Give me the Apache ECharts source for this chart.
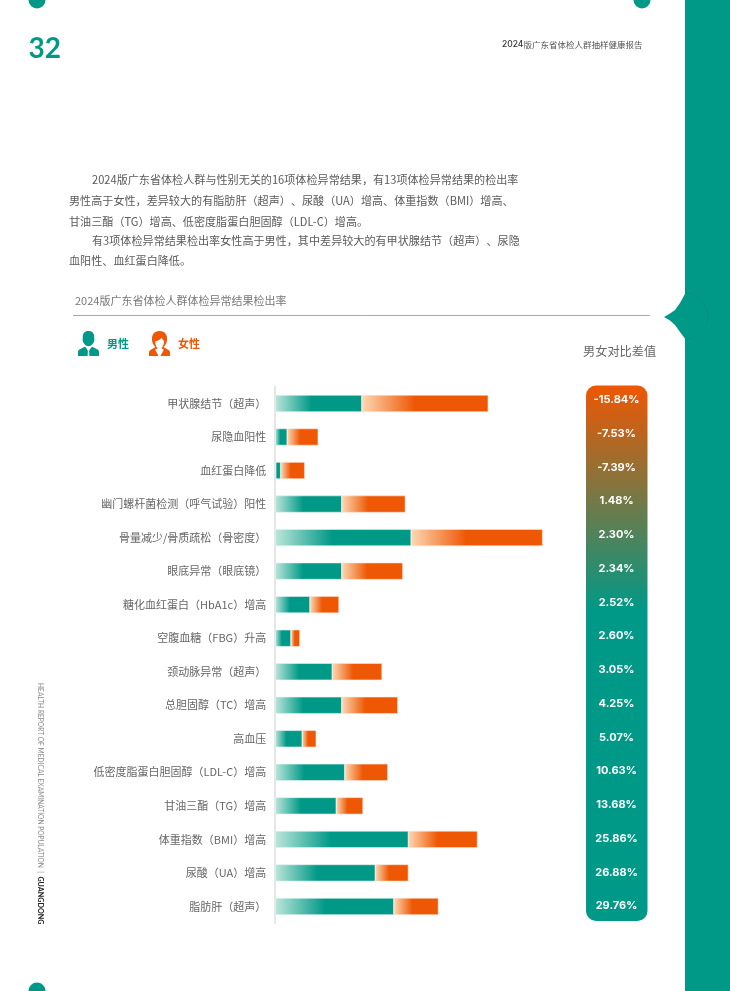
<!DOCTYPE html>
<html>
<head>
<meta charset="utf-8">
<style>
html,body{margin:0;padding:0;background:#fff;}
#chartmain{width:730px;height:991px;}
</style>
<script src="https://cdn.jsdelivr.net/npm/echarts@6/dist/echarts.min.js"></script>
</head>
<body>
<div id="chartmain"></div>
<script>
var categories=['甲状腺结节（超声）','尿隐血阳性','血红蛋白降低','幽门螺杆菌检测（呼气试验）阳性','骨量减少/骨质疏松（骨密度）','眼底异常（眼底镜）','糖化血红蛋白（HbA1c）增高','空腹血糖（FBG）升高','颈动脉异常（超声）','总胆固醇（TC）增高','高血压','低密度脂蛋白胆固醇（LDL-C）增高','甘油三酯（TG）增高','体重指数（BMI）增高','尿酸（UA）增高','脂肪肝（超声）'];
var maleValues=[34.6,4.8,2.2,26.6,54.3,26.6,13.9,6.3,22.8,26.6,10.8,27.8,24.4,53.2,40.0,47.4];
var femaleValues=[50.5,12.4,9.6,25.4,52.5,24.4,11.6,3.6,19.9,22.4,5.6,17.2,10.7,27.6,13.2,17.8];
var diffLabels=['-15.84%','-7.53%','-7.39%','1.48%','2.30%','2.34%','2.52%','2.60%','3.05%','4.25%','5.07%','10.63%','13.68%','25.86%','26.88%','29.76%'];
var paragraphLines=[
	'2024版广东省体检人群与性别无关的16项体检异常结果，有13项体检异常结果的检出率',
	'男性高于女性，差异较大的有脂肪肝（超声）、尿酸（UA）增高、体重指数（BMI）增高、',
	'甘油三酯（TG）增高、低密度脂蛋白胆固醇（LDL-C）增高。',
	'有3项体检异常结果检出率女性高于男性，其中差异较大的有甲状腺结节（超声）、尿隐',
	'血阳性、血红蛋白降低。'
];

var TEAL='#009987',ORANGE='#ee5703';
var CJK='"Noto Sans CJK SC","Noto Sans",sans-serif';
var maleIcon='path://M10.5 0C6.5 0 4.6 2.6 4.8 6.5L4.6 9C5 12 7.5 15.2 10.5 15.2C13.5 15.2 16 12 16.4 9L16.2 6.5C16.4 2.6 14.5 0 10.5 0ZM6.8 15.8L1 18.8C0.3 19.3 0 20 0 21V25H9.6L9.9 20L9 18ZM14.2 15.8L20 18.8C20.7 19.3 21 20 21 21V25H11.4L11.1 20L12 18Z';
var femaleIcon='path://M10.5 0C5 0 2.5 4 3 9C3.3 12 4.5 14.5 6.5 16L1.5 19C0.5 19.6 0 20.5 0 21.5V25H9.5L6.2 18.8L8.5 17.2C7 15.5 6 13 6.5 10C9 10 11.5 8.5 12.5 6.5C13.5 8.5 14.5 9.5 15 10C15.2 13 14 15.5 12.5 17.2L14.8 18.8L11.5 25H21V21.5C21 20.5 20.5 19.6 19.5 19L14.5 16C16.5 14.5 17.7 12 18 9C18.5 4 16 0 10.5 0Z';

function barGradient(light,solid) {
	return new echarts.graphic.LinearGradient(0,0,1,0,[
		{offset:0,color:light},
		{offset:0.42,color:solid},
		{offset:1,color:solid}
	]);
}

// split at ）、 so the browser keeps both punctuation marks full width
function paragraphText() {
	var lineY=[180,200.5,222,241,261];
	var lineX=[92,69,69,92,69];
	return paragraphLines.map(function(line,i) {
		return {
			type:'text',x:lineX[i],y:lineY[i],
			style:{
				text:'{t|'+line.replace(/）、/g,'）}{t|、')+'}',verticalAlign:'middle',
				rich:{t:{fill:'#5a5a5a',fontSize:11.1,fontFamily:CJK}}
			}
		};
	});
}

var myChart=echarts.init(document.getElementById("chartmain"),null,{renderer:'canvas'});
var option={
	animation:false,
	grid:[
		{left:275.2,top:386.7,width:341.3,height:536.5,containLabel:false},
		{left:586,top:383.1,width:30.5,height:539.7,containLabel:false}
	],
	legend:{
		left:73,top:326,itemWidth:21,itemHeight:25,itemGap:20,selectedMode:false,
		data:[
			{name:'男性',icon:maleIcon,itemStyle:{color:TEAL,borderWidth:0},
				textStyle:{color:TEAL,fontSize:11,fontWeight:'bold',fontFamily:CJK,padding:[1,0,0,3]}},
			{name:'女性',icon:femaleIcon,itemStyle:{color:ORANGE,borderWidth:0},
				textStyle:{color:ORANGE,fontSize:11,fontWeight:'bold',fontFamily:CJK,padding:[1,0,0,3]}}
		]
	},
	xAxis:[
		{type:'value',min:0,max:136.3,show:false},
		{type:'value',gridIndex:1,min:0,max:1,show:false}
	],
	yAxis:[{
		type:'category',inverse:true,data:categories,
		axisTick:{show:false},
		axisLine:{show:true,lineStyle:{color:'#e6e6e6',width:2}},
		axisLabel:{color:'#666',fontSize:11,fontFamily:CJK,margin:9,interval:0}
	},{
		type:'category',gridIndex:1,inverse:true,position:'right',data:diffLabels,z:10,
		axisTick:{show:false},axisLine:{show:false},
		axisLabel:{color:'#fff',fontSize:11,fontWeight:700,fontFamily:'Inter,sans-serif',align:'center',margin:0,interval:0}
	}],
	series:[{
		name:'男性',type:'bar',stack:'rate',barWidth:17,data:maleValues,
		itemStyle:{color:barGradient('#bce6da',TEAL),borderColor:'#e4f4f0',borderWidth:0.6}
	},{
		name:'女性',type:'bar',stack:'rate',barWidth:17,data:femaleValues,
		itemStyle:{color:barGradient('#fdd8b4',ORANGE),borderColor:'#fde3d2',borderWidth:0.6}
	}],
	graphic:{elements:[
		{type:'rect',z:-5,shape:{x:685,y:0,width:45,height:991},style:{fill:TEAL}},
		{type:'polygon',z:-5,shape:{points:[[686,292],[680,303],[675,310],[670,313.5],[664,317],[670,320.5],[675,325],[680,332],[686,340]]},style:{fill:TEAL}},
		{type:'arc',z:-4,shape:{cx:685,cy:316,r:23,startAngle:-Math.PI/2,endAngle:Math.PI/2},style:{fill:null,stroke:'#0c8c7d',lineWidth:0.8}},
		{type:'circle',z:-5,shape:{cx:37,cy:0,r:8.5},style:{fill:TEAL}},
		{type:'circle',z:-5,shape:{cx:642,cy:0,r:8.5},style:{fill:TEAL}},
		{type:'circle',z:-5,shape:{cx:37,cy:991,r:8.5},style:{fill:TEAL}},
		{type:'text',x:28.5,y:49,style:{text:'32',fill:TEAL,font:'bold 28px Lato,sans-serif',verticalAlign:'middle'}},
		{type:'text',x:502,y:44.5,style:{
			text:'{d|2024}{c|版广东省体检人群抽样健康报告}',verticalAlign:'middle',
			rich:{d:{fill:'#333',fontSize:8.5,fontFamily:'Inter,sans-serif',fontWeight:500},c:{fill:'#555',fontSize:8.5,fontFamily:CJK}}
		}},
		{type:'text',x:75,y:300.5,style:{text:'2024版广东省体检人群体检异常结果检出率',fill:'#777',font:'11px '+CJK,verticalAlign:'middle'}},
		{type:'line',shape:{x1:73,y1:315.5,x2:650,y2:315.5},style:{stroke:'#a8a8a8',lineWidth:1}},
		{type:'text',x:583,y:351.5,style:{text:'男女对比差值',fill:'#666',font:'12.2px '+CJK,verticalAlign:'middle'}},
		{type:'rect',z:-1,shape:{x:586,y:385.5,width:61.5,height:535.5,r:10},style:{
			fill:new echarts.graphic.LinearGradient(0,0,0,1,[
				{offset:0,color:ORANGE},
				{offset:0.42,color:TEAL},
				{offset:1,color:TEAL}
			])
		}},
		{type:'text',x:40,y:683,rotation:-Math.PI/2,style:{
			text:'{a|HEALTH REPORT OF MEDICAL EXAMINATION POPULATION  |  }{b|GUANGDONG}',verticalAlign:'middle',
			rich:{a:{fill:'#8a8a8a',fontSize:6.65,fontFamily:'Lato,sans-serif'},b:{fill:'#222',fontSize:7.2,fontWeight:'bold',fontFamily:'Lato,sans-serif'}}
		}}
	].concat(paragraphText())}
};
myChart.setOption(option);
</script>
</body>
</html>
